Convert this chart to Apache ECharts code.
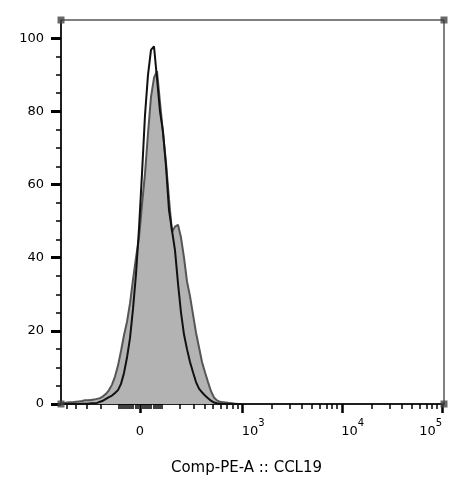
<!DOCTYPE html>
<html>
<head>
<meta charset="utf-8">
<script src="https://cdn.jsdelivr.net/npm/echarts@6/dist/echarts.min.js"></script>
<style>
  html, body { margin: 0; padding: 0; background: #fff; }
  #chart { width: 473px; height: 498px; }
</style>
</head>
<body>
<div id="chart"></div>
<script>
// bin positions on the biexponential display scale (decades from 0)
const binPos = [
  -0.79, -0.76, -0.73, -0.70, -0.67, -0.64, -0.61, -0.58, -0.55, -0.52,
  -0.49, -0.46, -0.43, -0.40, -0.37, -0.34, -0.31, -0.28, -0.25, -0.22,
  -0.19, -0.16, -0.13, -0.10, -0.07, -0.04, -0.01, 0.02, 0.05, 0.08,
  0.11, 0.14, 0.17, 0.20, 0.23, 0.26, 0.29, 0.32, 0.35, 0.38,
  0.41, 0.44, 0.47, 0.50, 0.53, 0.56, 0.59, 0.62, 0.65, 0.68,
  0.71, 0.74, 0.77, 0.80, 0.83, 0.86, 0.89, 0.92, 0.95, 0.98, 1.01
]
// % of max, filled grey histogram
const greyCounts = [
  0.3, 0.3, 0.4, 0.5, 0.5, 0.6, 0.7, 0.8, 1.0, 1.0,
  1.1, 1.2, 1.4, 1.6, 2.1, 2.8, 3.8, 5.3, 7.5, 10.5,
  14.5, 18.8, 22.5, 27.5, 34, 40, 45.5, 54.5, 63, 74,
  84, 89.2, 91, 82.5, 74, 66, 56, 47, 48.5, 49,
  45.5, 40, 33.5, 29.5, 24.5, 19.5, 15.5, 11.5, 8.7, 6,
  3.5, 1.8, 1.0, 0.6, 0.5, 0.4, 0.3, 0.2, 0.1, 0, 0
]
// % of max, black outline histogram
const blackCounts = [
  0, 0, 0, 0, 0, 0, 0, 0.1, 0.1, 0.1,
  0.2, 0.2, 0.3, 0.6, 0.9, 1.4, 1.9, 2.3, 3.0, 3.8,
  5.5, 8.5, 12.7, 18, 26, 35.5, 48, 63, 79, 90,
  96.8, 97.8, 89, 80, 74.5, 65, 53, 47.5, 42, 33,
  25, 19, 15, 11.5, 8.7, 6, 4.2, 3.2, 2.3, 1.6,
  0.9, 0.4, 0.2, 0.1, 0, 0, 0, 0, 0, 0, 0
]

const xMajorTicks = [0, 1000, 10000, 100000]
const xMinorTicks = [
  -500, -400, -300, -200, -100, -90, -80, -70, -60, -50, -40, -30, -20, -10,
  10, 20, 30, 40, 50, 60, 70, 80, 90, 100, 200, 300, 400, 500, 600, 700, 800, 900,
  2000, 3000, 4000, 5000, 6000, 7000, 8000, 9000,
  20000, 30000, 40000, 50000, 60000, 70000, 80000, 90000
]
const xLabels = ['0', '10^3', '10^4', '10^5']
const yLabels = [0, 20, 40, 60, 80, 100]
const yMinorTicks = [5, 10, 15, 25, 30, 35, 45, 50, 55, 65, 70, 75, 85, 90, 95]

const xMin = -0.79
const xMax = 3.04
const yMin = 0
const yMax = 105

// biexponential-like display transform
function biex(v) {
  return Math.asinh(v / 192) / Math.LN10
}

const font = 'DejaVu Sans'
const labelPos = xMajorTicks.map(biex)

function xLabelFormatter(val) {
  const i = labelPos.findIndex(p => Math.abs(p - val) < 1e-6)
  if (i < 0) return ''
  const t = xLabels[i]
  if (t === '0') return '{n|0}'
  const exp = t.split('^')[1]
  if (i === xLabels.length - 1) return '{n|10}{s|' + exp + '}{p|}'
  return '{p|}{n|10}{s|' + exp + '}'
}

const chart = echarts.init(document.getElementById('chart'), null, { renderer: 'canvas' })

const option = {
  animation: false,
  grid: {
    left: 61,
    right: 29,
    top: 20,
    bottom: 94,
    show: true,
    borderColor: '#000',
    borderWidth: 1
  },
  xAxis: [{
    type: 'value',
    min: xMin,
    max: xMax,
    position: 'bottom',
    name: 'Comp-PE-A :: CCL19',
    nameLocation: 'middle',
    nameGap: 57,
    nameTextStyle: { fontFamily: font, fontSize: 15, color: '#000', padding: [0, 12, 0, 0] },
    splitLine: { show: false },
    axisLine: { show: true, onZero: false, lineStyle: { color: '#000', width: 1.5 } },
    axisTick: {
      show: true,
      customValues: xMajorTicks.map(biex),
      length: 9,
      lineStyle: { color: '#000', width: 2.5 }
    },
    axisLabel: {
      show: true,
      customValues: labelPos,
      margin: 14,
      formatter: xLabelFormatter,
      rich: {
        n: { fontFamily: font, fontSize: 13, color: '#000', lineHeight: 20, verticalAlign: 'bottom' },
        s: { fontFamily: font, fontSize: 10, color: '#000', lineHeight: 10, verticalAlign: 'top' },
        p: { width: 22 }
      }
    }
  }, {
    type: 'value',
    min: xMin,
    max: xMax,
    position: 'bottom',
    splitLine: { show: false },
    axisLine: { show: false, onZero: false },
    axisTick: {
      show: true,
      customValues: xMinorTicks.map(biex),
      length: 5,
      lineStyle: { color: '#000', width: 1.5 }
    },
    axisLabel: { show: false }
  }],
  yAxis: [{
    type: 'value',
    min: yMin,
    max: yMax,
    position: 'left',
    splitLine: { show: false },
    axisLine: { show: true, onZero: false, lineStyle: { color: '#000', width: 1.5 } },
    axisTick: {
      show: true,
      customValues: yLabels,
      length: 10,
      lineStyle: { color: '#000', width: 3 }
    },
    axisLabel: {
      show: true,
      customValues: yLabels,
      margin: 17,
      fontFamily: font,
      fontSize: 13,
      color: '#000'
    }
  }, {
    type: 'value',
    min: yMin,
    max: yMax,
    position: 'left',
    splitLine: { show: false },
    axisLine: { show: false, onZero: false },
    axisTick: {
      show: true,
      customValues: yMinorTicks,
      length: 5,
      lineStyle: { color: '#000', width: 1.5 }
    },
    axisLabel: { show: false }
  }],
  series: [{
    name: 'grey',
    type: 'line',
    data: binPos.map((x, i) => [x, greyCounts[i]]),
    showSymbol: false,
    smooth: false,
    lineStyle: { color: '#555', width: 2 },
    areaStyle: { color: '#b3b3b3', opacity: 1 },
    z: 2
  }, {
    name: 'black',
    type: 'line',
    data: binPos.map((x, i) => [x, blackCounts[i]]),
    showSymbol: false,
    smooth: false,
    lineStyle: { color: '#111', width: 2 },
    z: 3
  }, {
    // frame corner markers
    type: 'scatter',
    data: [[xMin, yMin], [xMax, yMin], [xMin, yMax], [xMax, yMax]],
    symbol: 'rect',
    symbolSize: 7,
    itemStyle: { color: '#444' },
    clip: false,
    silent: true,
    z: 5
  }]
}

chart.setOption(option)
</script>
</body>
</html>
